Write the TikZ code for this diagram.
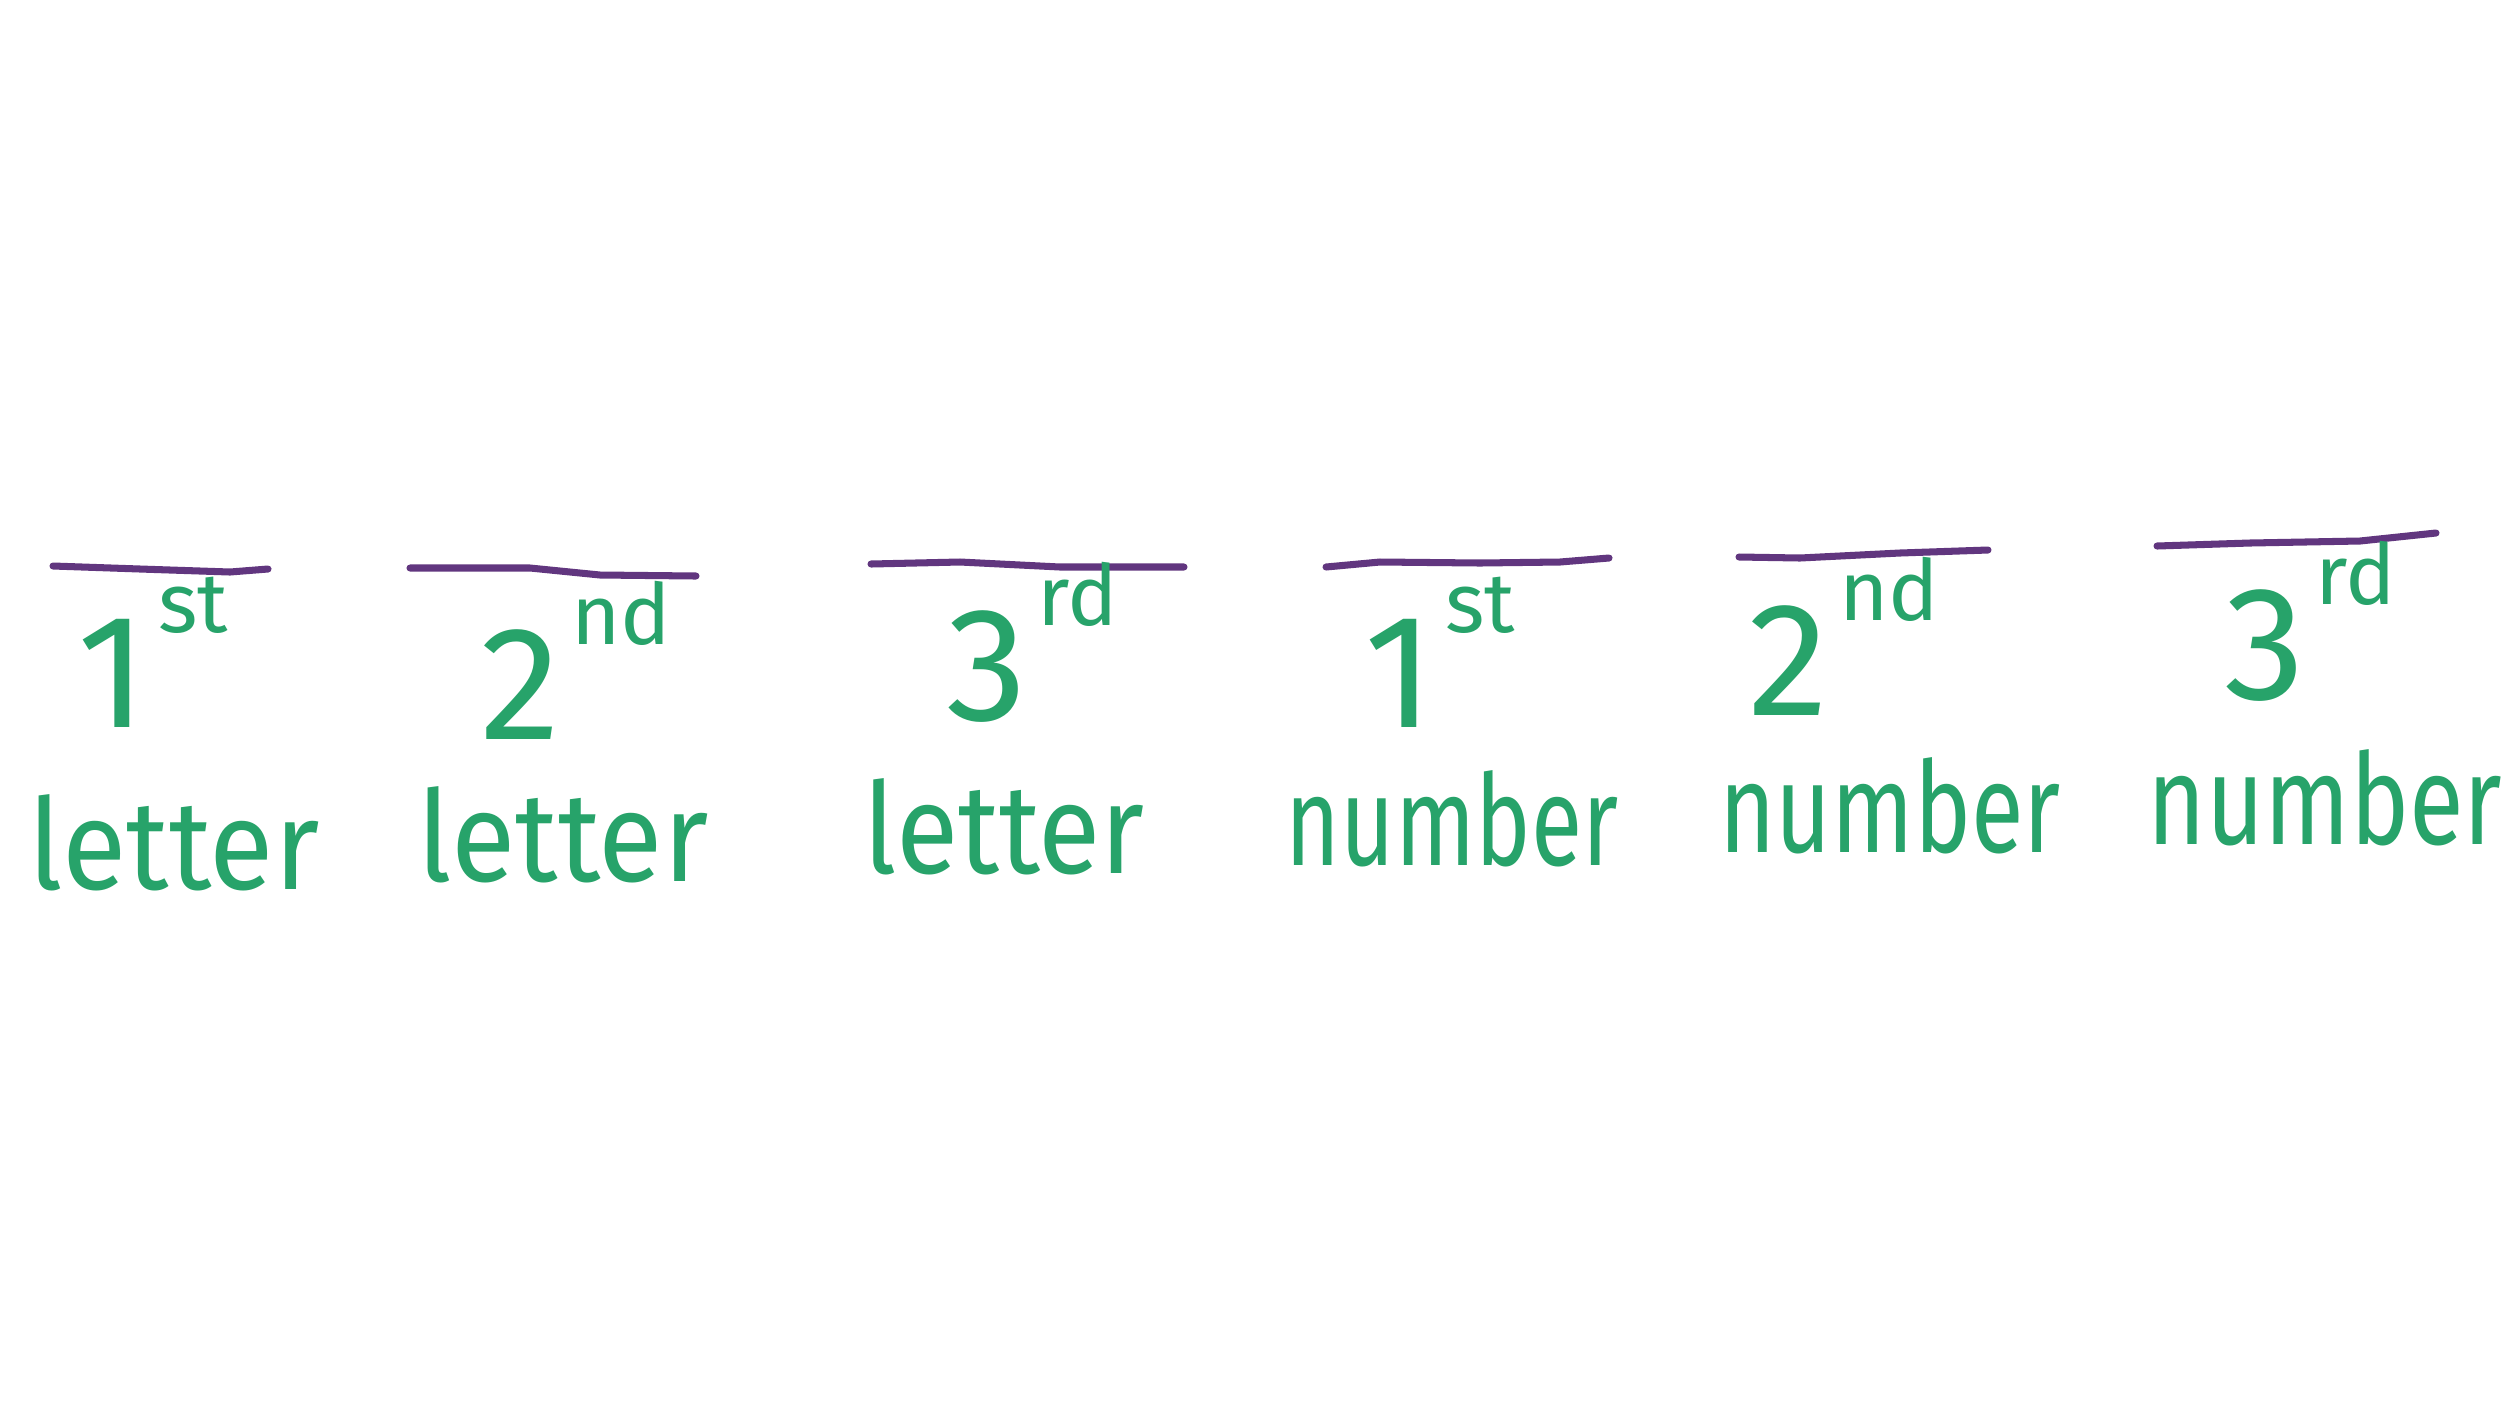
\documentclass[tikz,border=0pt]{standalone}
\usepackage{fontspec}
\setmainfont{Fira Sans}
\definecolor{hgreen}{RGB}{39,163,106}
\definecolor{hpurple}{RGB}{97,54,127}
\newcommand{\ordi}[2]{{\fontsize{46}{50}\selectfont #1\raisebox{27pt}{\fontsize{24}{28}\selectfont\hspace{3pt}#2}}}
\begin{document}
\begin{tikzpicture}[x=0.01cm,y=-0.01cm,
  blank/.style={draw=hpurple,line width=2pt,line cap=round},
  word/.style={text=hgreen,font=\fontsize{36}{40}\selectfont,anchor=base,inner sep=0pt},
  ord/.style={text=hgreen,anchor=base,inner sep=0pt}]
\useasboundingbox[fill=white] (0,0) rectangle (2520,1417);
% blanks
\draw[blank] (53,566) -- (140,569) -- (230,572) -- (268,569);
\draw[blank] (410,568) -- (530,568) -- (600,575) -- (696,576);
\draw[blank] (871,564) -- (960,562) -- (1060,567) -- (1184,567);
\draw[blank] (1326,567) -- (1380,562) -- (1480,563) -- (1560,562) -- (1609,558);
\draw[blank] (1739,557) -- (1800,558) -- (1900,553) -- (1988,550);
\draw[blank] (2157,546) -- (2250,543) -- (2360,541) -- (2436,533);
% ordinals
\node[ord] (o1) at (153,727) {\ordi{1}{st}};
\node[ord] (o2) at (576,739) {\ordi{2}{nd}};
\node[ord] (o3) at (1032,720) {\ordi{3}{rd}};
\node[ord] (o4) at (1440,727) {\ordi{1}{st}};
\node[ord] (o5) at (1844,715) {\ordi{2}{nd}};
\node[ord] (o6) at (2310,699) {\ordi{3}{rd}};
% words
\node[word] (w1) at (174,889) {\scalebox{0.93}[1]{letter}};
\node[word] (w2) at (563,881) {\scalebox{0.93}[1]{letter}};
\node[word] (w3) at (1004,873) {\scalebox{0.9}[1]{letter}};
\node[word] (w4) at (1452,865) {\scalebox{0.74}[1]{number}};
\node[word] (w5) at (1890,852) {\scalebox{0.76}[1]{number}};
\node[word] (w6) at (2325,844) {\scalebox{0.79}[1]{number}};
\end{tikzpicture}
\end{document}
